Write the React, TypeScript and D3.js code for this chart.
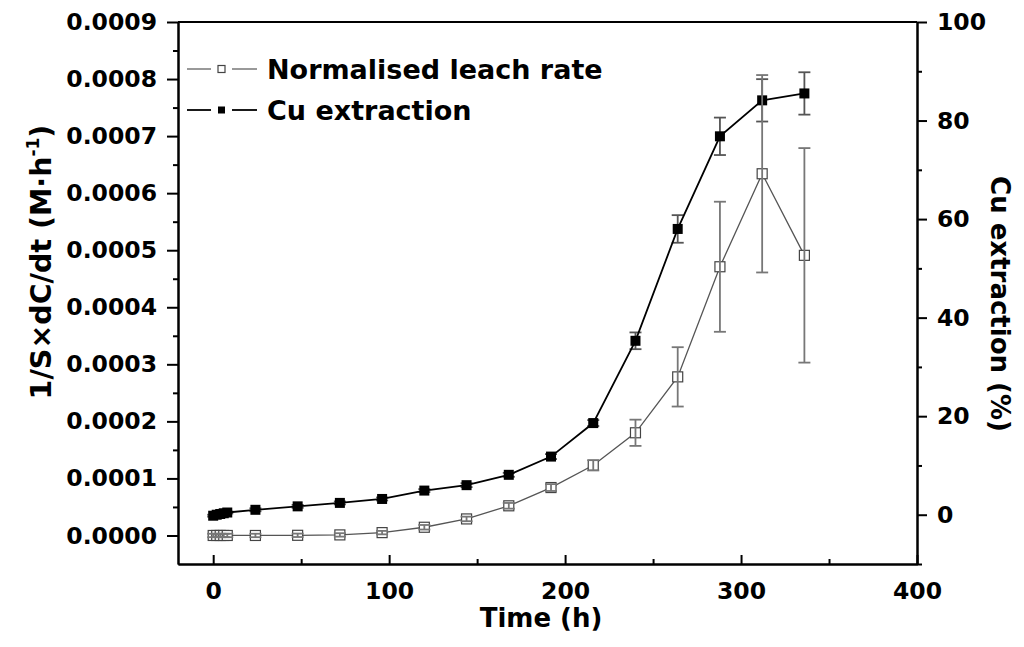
import { useRef, useEffect } from "react";
import * as d3 from "d3";

// sampling times (h)
const times = [0, 2, 4, 6, 8, 24, 48, 72, 96, 120, 144, 168, 192, 216, 240, 264, 288, 312, 336];

// normalised leach rate, 1/S x dC/dt (M/h)
const leachRate = [
  0, 0, 0, 0, 0, 0, 0.0000003, 0.000001, 0.000005, 0.0000144, 0.000029, 0.000052, 0.000084,
  0.000123, 0.00018, 0.000278, 0.000471, 0.000634, 0.000491,
];
const leachErr = [
  0.000003, 0.000003, 0.000003, 0.000003, 0.000003, 0.000003, 0.000003, 0.000003, 0.000003,
  0.000004, 0.000004, 0.000005, 0.000006, 0.000009, 0.000023, 0.000052, 0.000114, 0.000173, 0.000188,
];

// Cu extraction (%)
const cuExtraction = [-0.2, 0, 0.15, 0.3, 0.45, 1.0, 1.7, 2.4, 3.2, 4.9, 6.0, 8.1, 11.8, 18.6, 35.3, 58.0, 76.8, 84.1, 85.5];
const cuErr = [0.2, 0.2, 0.2, 0.2, 0.2, 0.3, 0.3, 0.3, 0.3, 0.3, 0.4, 0.4, 0.5, 0.6, 1.7, 2.8, 3.8, 4.3, 4.3];

const xTicks = [0, 100, 200, 300, 400];
const leftTicks = [0, 0.0001, 0.0002, 0.0003, 0.0004, 0.0005, 0.0006, 0.0007, 0.0008, 0.0009];
const rightTicks = [0, 20, 40, 60, 80, 100];

const W = 1024;
const H = 647;
const margin = { top: 22, right: 107, bottom: 83, left: 178 };
const FONT = "'DejaVu Sans', 'Liberation Sans', Arial, sans-serif";

const App = () => {
  const axesRef = useRef<SVGGElement | null>(null);

  const x = d3.scaleLinear().domain([-20, 400]).range([margin.left, W - margin.right]);
  const yL = d3.scaleLinear().domain([-0.00005, 0.0009]).range([H - margin.bottom, margin.top]);
  const yR = d3.scaleLinear().domain([-10, 100]).range([H - margin.bottom, margin.top]);

  const rateLine = d3
    .line<number>()
    .x((_, i) => x(times[i]))
    .y((d) => yL(d));
  const cuLine = d3
    .line<number>()
    .x((_, i) => x(times[i]))
    .y((d) => yR(d));

  useEffect(() => {
    const g = d3.select(axesRef.current);
    g.selectAll("*").remove();
    const bottom = H - margin.bottom;
    const right = W - margin.right;

    // minor ticks first
    const minorX = [50, 150, 250, 350];
    g.append("g")
      .attr("transform", `translate(0,${bottom})`)
      .call(d3.axisBottom(x).tickValues(minorX).tickSizeInner(-5).tickSizeOuter(0).tickFormat(() => ""));
    g.append("g")
      .attr("transform", `translate(${margin.left},0)`)
      .call(
        d3.axisLeft(yL)
          .tickValues(d3.range(0, 9).map((i) => i * 0.0001 + 0.00005))
          .tickSizeInner(5)
          .tickSizeOuter(0)
          .tickFormat(() => "")
      );
    g.append("g")
      .attr("transform", `translate(${right},0)`)
      .call(
        d3.axisRight(yR)
          .tickValues([-10, 10, 30, 50, 70, 90])
          .tickSizeInner(5)
          .tickSizeOuter(0)
          .tickFormat(() => "")
      );

    // major axes
    g.append("g")
      .attr("transform", `translate(0,${bottom})`)
      .call(d3.axisBottom(x).tickValues(xTicks).tickSizeInner(-9).tickSizeOuter(0).tickPadding(18));
    g.append("g")
      .attr("transform", `translate(${margin.left},0)`)
      .call(d3.axisLeft(yL).tickValues(leftTicks).tickSizeInner(11).tickSizeOuter(0).tickPadding(10).tickFormat(d3.format(".4f")));
    g.append("g")
      .attr("transform", `translate(${right},0)`)
      .call(d3.axisRight(yR).tickValues(rightTicks).tickSizeInner(10).tickSizeOuter(0).tickPadding(10));

    g.append("line")
      .attr("x1", margin.left)
      .attr("x2", right)
      .attr("y1", margin.top)
      .attr("y2", margin.top)
      .attr("stroke", "#000")
      .attr("stroke-width", 2);

    g.selectAll("path.domain").attr("stroke", "#000").attr("stroke-width", 2);
    g.selectAll(".tick line").attr("stroke", "#000").attr("stroke-width", 2);
    g.selectAll(".tick text")
      .attr("font-family", FONT)
      .attr("font-weight", "bold")
      .attr("font-size", 23.5)
      .attr("fill", "#000");
  }, []);

  const cap = 6;

  return (
    <svg
      width={W}
      height={H}
      viewBox={`0 0 ${W} ${H}`}
      style={{ position: "absolute", left: 0, top: 0, background: "#fff" }}
    >
      <rect width={W} height={H} fill="#fff" />

      {/* Cu extraction error bars */}
      <g stroke="#555" strokeWidth={1.8}>
        {cuExtraction.map((v, i) => {
          const cx = x(times[i]);
          const y1 = yR(v + cuErr[i]);
          const y2 = yR(v - cuErr[i]);
          return (
            <g key={i}>
              <line x1={cx} x2={cx} y1={y1} y2={y2} />
              <line x1={cx - cap} x2={cx + cap} y1={y1} y2={y1} />
              <line x1={cx - cap} x2={cx + cap} y1={y2} y2={y2} />
            </g>
          );
        })}
      </g>
      <path d={cuLine(cuExtraction) || ""} fill="none" stroke="#000" strokeWidth={1.8} />
      {cuExtraction.map((v, i) => (
        <rect key={i} x={x(times[i]) - 5} y={yR(v) - 5} width={10} height={10} fill="#000" />
      ))}

      {/* normalised leach rate */}
      <path d={rateLine(leachRate) || ""} fill="none" stroke="#555" strokeWidth={1.3} />
      {leachRate.map((v, i) => (
        <rect
          key={i}
          x={x(times[i]) - 5}
          y={yL(v) - 5}
          width={10}
          height={10}
          fill="#fff"
          stroke="#444"
          strokeWidth={1.2}
        />
      ))}
      <g stroke="#777" strokeWidth={1.8}>
        {leachRate.map((v, i) => {
          const cx = x(times[i]);
          const y1 = yL(v + leachErr[i]);
          const y2 = yL(v - leachErr[i]);
          return (
            <g key={i}>
              <line x1={cx} x2={cx} y1={y1} y2={y2} />
              <line x1={cx - cap} x2={cx + cap} y1={y1} y2={y1} />
              <line x1={cx - cap} x2={cx + cap} y1={y2} y2={y2} />
            </g>
          );
        })}
      </g>

      <g ref={axesRef} />

      {/* legend */}
      <g fontFamily={FONT} fontWeight="bold" fontSize={27}>
        <line x1={187} x2={211} y1={69} y2={69} stroke="#777" strokeWidth={1.5} />
        <line x1={232} x2={257} y1={69} y2={69} stroke="#777" strokeWidth={1.5} />
        <rect x={218} y={65.5} width={7} height={7} fill="#fff" stroke="#444" strokeWidth={1.2} />
        <text x={267} y={79}>Normalised leach rate</text>
        <line x1={187} x2={211} y1={110} y2={110} stroke="#000" strokeWidth={1.8} />
        <line x1={232} x2={257} y1={110} y2={110} stroke="#000" strokeWidth={1.8} />
        <rect x={218} y={106.5} width={7} height={7} fill="#000" />
        <text x={267} y={120}>Cu extraction</text>
      </g>

      {/* axis titles */}
      <g fontFamily={FONT} fontWeight="bold" fontSize={26} fill="#000">
        <text x={541} y={627} textAnchor="middle">Time (h)</text>
        <text transform="translate(51,262) rotate(-90)" textAnchor="middle" fontSize={28.5}>
          1/S×dC/dt (M·h
          <tspan fontSize={17} dy={-12}>-1</tspan>
          <tspan dy={12}>)</tspan>
        </text>
        <text transform="translate(991,304) rotate(90)" textAnchor="middle">
          Cu extraction (%)
        </text>
      </g>
    </svg>
  );
};

export default App;
